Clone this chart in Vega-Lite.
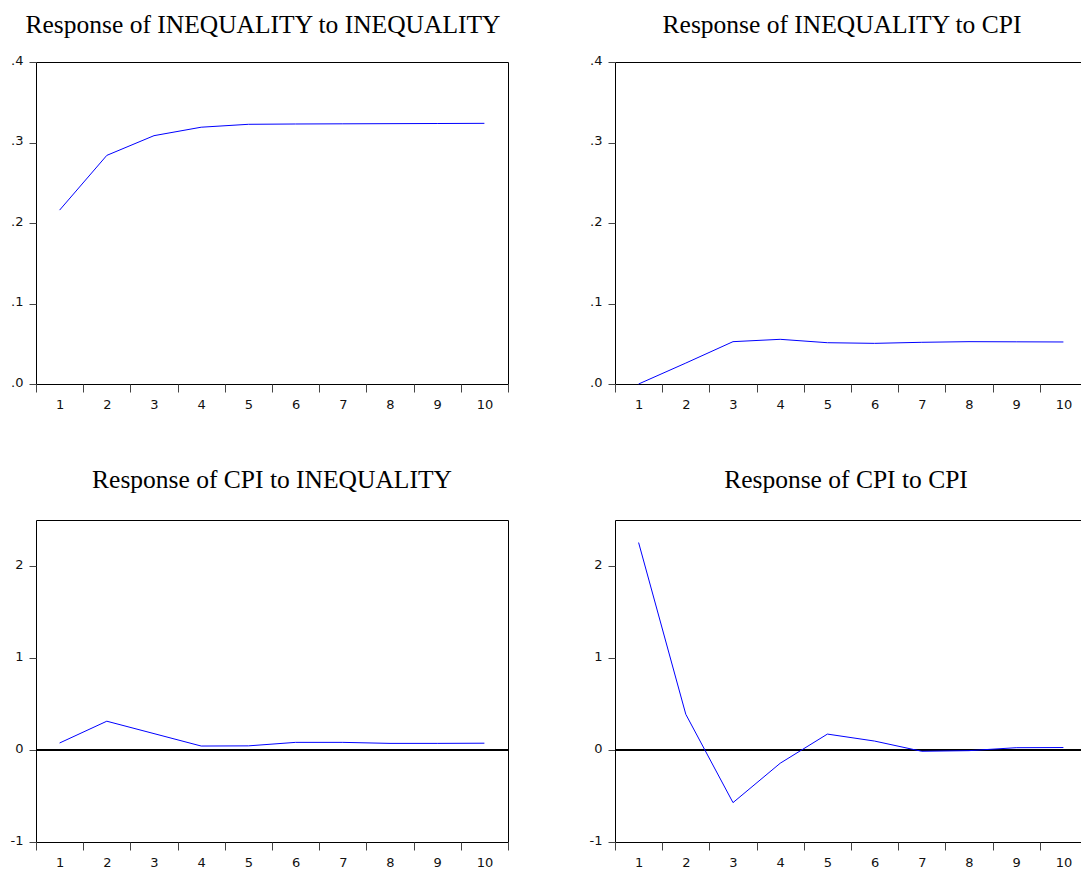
{
  "$schema": "https://vega.github.io/schema/vega-lite/v6.json",
  "background": "white",
  "padding": {"left": 9, "top": 12, "right": 0, "bottom": 0},
  "datasets": {
    "ii": [
      {"period": 1, "response": 0.216},
      {"period": 2, "response": 0.284},
      {"period": 3, "response": 0.3085},
      {"period": 4, "response": 0.319},
      {"period": 5, "response": 0.3226},
      {"period": 6, "response": 0.323},
      {"period": 7, "response": 0.3232},
      {"period": 8, "response": 0.3234},
      {"period": 9, "response": 0.3236},
      {"period": 10, "response": 0.3238}
    ],
    "ic": [
      {"period": 1, "response": 0.0},
      {"period": 2, "response": 0.026},
      {"period": 3, "response": 0.0526},
      {"period": 4, "response": 0.0555},
      {"period": 5, "response": 0.0513},
      {"period": 6, "response": 0.0505},
      {"period": 7, "response": 0.0518},
      {"period": 8, "response": 0.0526},
      {"period": 9, "response": 0.0524},
      {"period": 10, "response": 0.0522}
    ],
    "ci": [
      {"period": 1, "response": 0.076},
      {"period": 2, "response": 0.313},
      {"period": 3, "response": 0.178},
      {"period": 4, "response": 0.043},
      {"period": 5, "response": 0.045},
      {"period": 6, "response": 0.083},
      {"period": 7, "response": 0.083},
      {"period": 8, "response": 0.072},
      {"period": 9, "response": 0.072},
      {"period": 10, "response": 0.074}
    ],
    "cc": [
      {"period": 1, "response": 2.255},
      {"period": 2, "response": 0.388},
      {"period": 3, "response": -0.572},
      {"period": 4, "response": -0.144},
      {"period": 5, "response": 0.173},
      {"period": 6, "response": 0.097},
      {"period": 7, "response": -0.014},
      {"period": 8, "response": -0.007},
      {"period": 9, "response": 0.025},
      {"period": 10, "response": 0.027}
    ]
  },
  "columns": 2,
  "spacing": {"row": 55, "column": 55},
  "concat": [
    {
      "width": 472, "height": 322,
      "title": {"text": "Response of INEQUALITY to INEQUALITY", "offset": 16, "dx": -9},
      "data": {"name": "ii"},
      "mark": {"type": "line", "color": "#0000ff", "strokeWidth": 1},
      "encoding": {
        "x": {"field": "period", "type": "quantitative",
          "scale": {"domain": [0.5, 10.5], "nice": false, "zero": false},
          "axis": {"values": [0.5,1.5,2.5,3.5,4.5,5.5,6.5,7.5,8.5,9.5,10.5], "labelExpr": "datum.value < 10 ? format(datum.value + 0.5, 'd') : ''", "labelOffset": 23.6, "labelOverlap": false, "labelBound": false, "labelFlush": false}},
        "y": {"field": "response", "type": "quantitative",
          "scale": {"domain": [0, 0.4], "nice": false, "zero": false},
          "axis": {"values": [0, 0.1, 0.2, 0.3, 0.4], "labelExpr": "substring(format(datum.value, '.1f'), 1)"}}
      }
    },
    {
      "width": 472, "height": 322,
      "title": {"text": "Response of INEQUALITY to CPI", "offset": 16, "dx": -9},
      "data": {"name": "ic"},
      "mark": {"type": "line", "color": "#0000ff", "strokeWidth": 1},
      "encoding": {
        "x": {"field": "period", "type": "quantitative",
          "scale": {"domain": [0.5, 10.5], "nice": false, "zero": false},
          "axis": {"values": [0.5,1.5,2.5,3.5,4.5,5.5,6.5,7.5,8.5,9.5,10.5], "labelExpr": "datum.value < 10 ? format(datum.value + 0.5, 'd') : ''", "labelOffset": 23.6, "labelOverlap": false, "labelBound": false, "labelFlush": false}},
        "y": {"field": "response", "type": "quantitative",
          "scale": {"domain": [0, 0.4], "nice": false, "zero": false},
          "axis": {"values": [0, 0.1, 0.2, 0.3, 0.4], "labelExpr": "substring(format(datum.value, '.1f'), 1)"}}
      }
    },
    {
      "width": 472, "height": 322,
      "title": {"text": "Response of CPI to INEQUALITY", "offset": 27},
      "data": {"name": "ci"},
      "layer": [
        {
          "mark": {"type": "rule", "color": "#000000", "strokeWidth": 1},
          "encoding": {"y": {"datum": 0}}
        },
        {
          "mark": {"type": "line", "color": "#0000ff", "strokeWidth": 1},
          "encoding": {
            "x": {"field": "period", "type": "quantitative",
              "scale": {"domain": [0.5, 10.5], "nice": false, "zero": false},
              "axis": {"values": [0.5,1.5,2.5,3.5,4.5,5.5,6.5,7.5,8.5,9.5,10.5], "labelExpr": "datum.value < 10 ? format(datum.value + 0.5, 'd') : ''", "labelOffset": 23.6, "labelOverlap": false, "labelBound": false, "labelFlush": false}},
            "y": {"field": "response", "type": "quantitative",
              "scale": {"domain": [-1, 2.5], "nice": false, "zero": false},
              "axis": {"values": [-1, 0, 1, 2], "labelExpr": "'' + datum.value"}}
          }
        }
      ]
    },
    {
      "width": 472, "height": 322,
      "title": {"text": "Response of CPI to CPI", "offset": 27, "dx": -5},
      "data": {"name": "cc"},
      "layer": [
        {
          "mark": {"type": "rule", "color": "#000000", "strokeWidth": 1},
          "encoding": {"y": {"datum": 0}}
        },
        {
          "mark": {"type": "line", "color": "#0000ff", "strokeWidth": 1},
          "encoding": {
            "x": {"field": "period", "type": "quantitative",
              "scale": {"domain": [0.5, 10.5], "nice": false, "zero": false},
              "axis": {"values": [0.5,1.5,2.5,3.5,4.5,5.5,6.5,7.5,8.5,9.5,10.5], "labelExpr": "datum.value < 10 ? format(datum.value + 0.5, 'd') : ''", "labelOffset": 23.6, "labelOverlap": false, "labelBound": false, "labelFlush": false}},
            "y": {"field": "response", "type": "quantitative",
              "scale": {"domain": [-1, 2.5], "nice": false, "zero": false},
              "axis": {"values": [-1, 0, 1, 2], "labelExpr": "'' + datum.value"}}
          }
        }
      ]
    }
  ],
  "config": {
    "view": {"stroke": "#000000", "strokeWidth": 1},
    "axis": {"domain": false, "grid": false, "title": null, "tickSize": 8, "tickColor": "#444444", "labelFont": "DejaVu Sans", "labelFontSize": 13, "labelColor": "#111111", "labelPadding": 6},
    "axisY": {"tickSize": 7, "labelPadding": 6, "labelOffset": -2},
    "title": {"font": "Liberation Serif", "fontSize": 25.5, "fontWeight": "normal", "color": "#000000", "anchor": "middle"}
  }
}
